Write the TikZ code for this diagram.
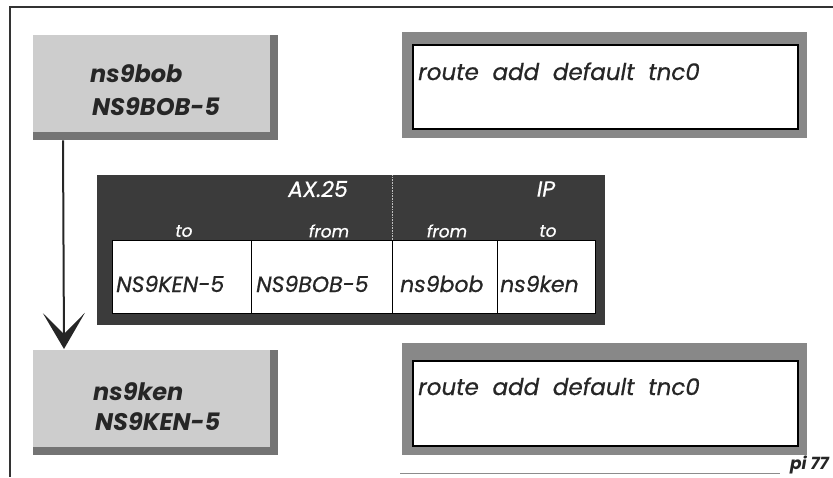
\documentclass[tikz,border=0pt]{standalone}
\usepackage{fontspec}
\setmainfont{Poppins}
\newfontfamily\medfont{Poppins}[FakeBold=0.6]
\usetikzlibrary{arrows.meta,calc}
\definecolor{lightstip}{HTML}{CDCDCD}
\definecolor{darkstip}{HTML}{747474}
\definecolor{framestip}{HTML}{888888}
\definecolor{tabledark}{HTML}{3B3B3B}
\tikzset{
  hostshadow/.style={draw=none,fill=darkstip,rectangle,inner sep=0pt,anchor=north west},
  hostface/.style={draw=none,fill=lightstip,rectangle,inner sep=0pt,anchor=north west},
  hostlabel/.style={anchor=base west,inner sep=0pt,font=\fontsize{24}{24}\selectfont\bfseries\itshape,text=black!85},
  routeouter/.style={draw=none,fill=framestip,rectangle,inner sep=0pt,anchor=north west},
  routeinner/.style={draw=black,line width=1.6pt,fill=white,rectangle,inner sep=0pt,anchor=north west},
  routetext/.style={anchor=base west,inner sep=0pt,font=\medfont\fontsize{23}{23}\selectfont\itshape,text=black!85},
  cellbox/.style={draw=black,line width=0.9pt,fill=white,rectangle,inner sep=0pt,anchor=north west},
  celltext/.style={anchor=base west,inner sep=0pt,font=\medfont\fontsize{22}{22}\selectfont\itshape,text=black!85},
  headbig/.style={inner sep=0pt,font=\medfont\fontsize{22}{22}\selectfont\itshape,text=white},
  headsmall/.style={inner sep=0pt,font=\medfont\fontsize{17}{17}\selectfont\itshape,text=white},
  frameline/.style={line width=1.5pt,black!80},
  flowarrow/.style={line width=2pt,black!85,-{Stealth[length=36pt,width=42pt,inset=21pt]}}
}
\begin{document}
\begin{tikzpicture}[x=1pt,y=-1pt]
\useasboundingbox (0,0) rectangle (833,477);
% frame
\coordinate (ftr) at (833,7);
\coordinate (ftl) at (10,7);
\coordinate (fbl) at (10,477);
\draw[frameline] (ftr) -- (ftl) -- (fbl);
\coordinate (fb1) at (400,473);
\coordinate (fb2) at (780,473);
\draw[line width=0.8pt,black!45] (fb1) -- (fb2);
% host boxes
\node[hostshadow,minimum width=245pt,minimum height=105pt] (bob) at (33,35) {};
\node[hostface,minimum width=237pt,minimum height=97pt] (bobface) at (33,35) {};
\node[hostlabel] (bobname) at (90,82) {ns9bob};
\node[hostlabel] (bobcall) at (92,115) {NS9BOB-5};
\node[hostshadow,minimum width=245pt,minimum height=105pt] (ken) at (33,350) {};
\node[hostface,minimum width=237pt,minimum height=97pt] (kenface) at (33,350) {};
\node[hostlabel] (kenname) at (93,400) {ns9ken};
\node[hostlabel] (kencall) at (95,430) {NS9KEN-5};
% arrow
\draw[flowarrow] ($(bob.south west)+(30,0)$) -- ($(ken.north west)+(31,-1)$);
% route boxes
\node[routeouter,minimum width=405pt,minimum height=106pt] (rt1) at (402,32) {};
\node[routeinner,minimum width=385pt,minimum height=84pt] (rt1in) at (412,44) {};
\node[routetext] (rt1txt) at (418,80) {route\ \ add\ \ default\ \ tnc0};
\node[routeouter,minimum width=405pt,minimum height=112pt] (rt2) at (402,343) {};
\node[routeinner,minimum width=385pt,minimum height=85pt] (rt2in) at (412,360) {};
\node[routetext] (rt2txt) at (418,395) {route\ \ add\ \ default\ \ tnc0};
% packet table
\node[draw=none,fill=tabledark,rectangle,inner sep=0pt,anchor=north west,minimum width=508pt,minimum height=150pt] (pkt) at (97,175) {};
\node[cellbox,minimum width=139pt,minimum height=73pt] (c1) at (112,240) {};
\node[cellbox,minimum width=141pt,minimum height=73pt] (c2) at (251,240) {};
\node[cellbox,minimum width=105pt,minimum height=73pt] (c3) at (392,240) {};
\node[cellbox,minimum width=98pt,minimum height=73pt] (c4) at (497,240) {};
\node[celltext] (t1) at (116,292) {NS9KEN-5};
\node[celltext] (t2) at (256,292) {NS9BOB-5};
\node[celltext] (t3) at (400,292) {ns9bob};
\node[celltext] (t4) at (500,292) {ns9ken};
\draw[white!75!black,line width=0.6pt,densely dotted] (c3.north west) -- (c3.north west |- pkt.north);
\node[headbig] (hax) at (318,189) {AX.25};
\node[headbig] (hip) at (546,189) {IP};
\node[headsmall] (h1) at (184,231) {to};
\node[headsmall] (h2) at (329,231) {from};
\node[headsmall] (h3) at (447,231) {from};
\node[headsmall] (h4) at (548,231) {to};
% page number
\node[anchor=base east,inner sep=0pt,font=\fontsize{17}{17}\selectfont\bfseries\itshape,text=black!85] (pg) at (829,469) {pi 77};
\end{tikzpicture}
\end{document}
